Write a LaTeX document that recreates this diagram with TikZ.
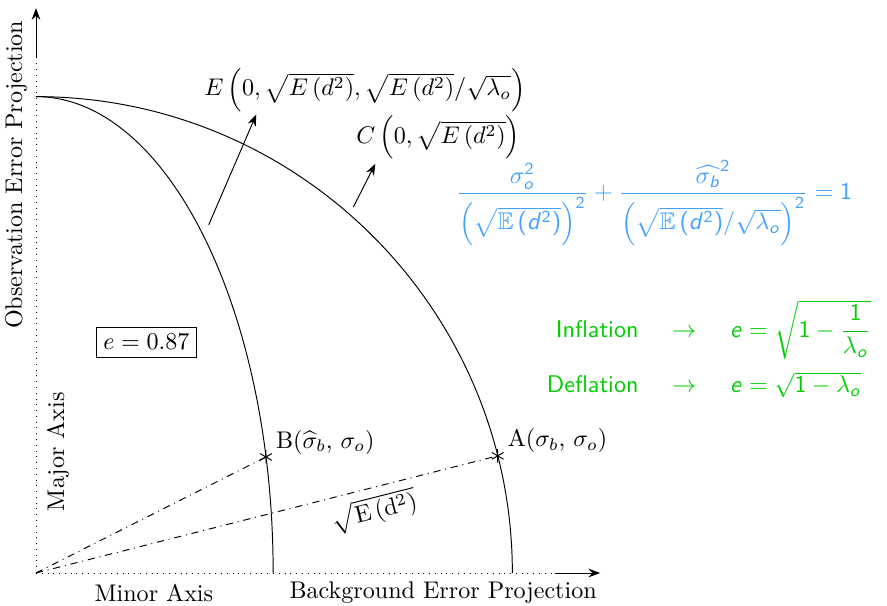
\documentclass[tikz,border=0pt]{standalone}
\usepackage{amsmath}
\usepackage{amssymb}
\usetikzlibrary{arrows.meta, positioning, calc, plotmarks}

\definecolor{eqblue}{RGB}{64,160,255}
\definecolor{eqgreen}{RGB}{0,205,0}

% Sans serif math for the coloured equations
\DeclareMathVersion{sans}
\SetSymbolFont{operators}{sans}{OT1}{cmss}{m}{n}
\DeclareMathAlphabet{\mathsfit}{OT1}{cmss}{m}{sl}
\newcommand{\sv}[1]{\mathsfit{#1}}

\begin{document}
\begin{tikzpicture}[
    >=Stealth, % Arrow tip
    % Style definitions
    axis dots/.style={dotted},
    axis arrow/.style={->},
    ray/.style={dash dot},
    pointer/.style={->},
    point mark/.style={mark=asterisk, mark size=2.8pt, only marks},
    % Text styles
    axis text/.style={font=\normalsize\rmfamily},
    blue eq/.style={text=eqblue, font=\mathversion{sans}},
    green eq/.style={text=eqgreen, font=\mathversion{sans}\sffamily},
    value box/.style={draw, inner sep=3pt}
]

\useasboundingbox (-0.525,-0.467) rectangle (12.416,8.360);

% Radii of the two quarter ellipses
\def\rad{6.95}
\def\semi{3.46}

% ==========================================
% 1. AXES
% ==========================================

\coordinate (O) at (0,0);
\coordinate (y_end) at (0,7.53);
\coordinate (y_tip) at (0,8.24);
\coordinate (x_end) at (7.57,0);
\coordinate (x_tip) at (8.23,0);

\draw[axis dots] (O) -- (y_end);
\draw[axis arrow] (y_end) -- (y_tip);
\draw[axis dots] (O) -- (x_end);
\draw[axis arrow] (x_end) -- (x_tip);

% Axis labels
\node[axis text, rotate=90] (yaxis_label) at (-0.29, 5.81) {Observation Error Projection};
\node[axis text, rotate=90] (major_label) at (0.32, 1.77) {Major Axis};
\node[axis text] (minor_label) at (1.72, -0.29) {Minor Axis};
\node[axis text] (xaxis_label) at (5.94, -0.29) {Background Error Projection};

% ==========================================
% 2. ELLIPSE AND CIRCLE
% ==========================================

\draw (0,\rad) arc[start angle=90, end angle=0, radius=\rad];
\draw (0,\rad) arc[start angle=90, end angle=0, x radius=\semi, y radius=\rad];

% Points on the curves
\coordinate (B) at ({\semi*cos(14.1)}, {\rad*sin(14.1)});
\coordinate (A) at (14.24:\rad);

\draw[ray] (O) -- (B);
\draw[ray] (O) -- node[sloped, below, pos=0.72] (dist_label) {$\sqrt{\mathrm{E}\left(\mathrm{d}^2\right)}$} (A);

\draw plot[point mark] coordinates {(B) (A)};

\node[anchor=south west, inner sep=1pt, xshift=3pt] (B_label) at (B) {B($\widehat{\sigma}_b$, $\sigma_o$)};
\node[anchor=south west, inner sep=1pt, xshift=3pt] (A_label) at (A) {A($\sigma_b$, $\sigma_o$)};

% Eccentricity box
\node[value box] (e_box) at (1.61, 3.37) {$e=0.87$};

% ==========================================
% 3. TOP LABELS
% ==========================================

\node (E_label) at (4.80, 7.05) {$E\left(0,\sqrt{E\left(d^2\right)},\sqrt{E\left(d^2\right)}/\sqrt{\lambda_o}\right)$};
\node (C_label) at (5.87, 6.36) {$C\left(0,\sqrt{E\left(d^2\right)}\right)$};

\coordinate (E_tail) at (2.52, 5.08);
\coordinate (C_tail) at (4.63, 5.34);

\draw[pointer] (E_tail) -- ($(E_label.south west)+(0.88,0.08)$);
\draw[pointer] (C_tail) -- ($(C_label.south west)+(0.40,0.05)$);

% ==========================================
% 4. EQUATIONS
% ==========================================

\node[blue eq] (ellipse_eq) at (9.02, 5.40)
    {$\dfrac{\sigma_{\sv{o}}^2}{\left(\sqrt{\mathbb{E}\left(\sv{d}^2\right)}\right)^2}+\dfrac{\widehat{\sigma_{\sv{b}}}^2}{\left(\sqrt{\mathbb{E}\left(\sv{d}^2\right)}/\sqrt{\lambda_{\sv{o}}}\right)^2}=1$};

\node[green eq] (rate_eq) at (9.82, 3.24)
    {$\setlength{\arraycolsep}{7pt}\begin{array}{rcl}
        \text{Inflation} & \rightarrow & \sv{e}=\sqrt{1-\dfrac{1}{\lambda_{\sv{o}}}}\\[11pt]
        \text{Deflation} & \rightarrow & \sv{e}=\sqrt{1-\lambda_{\sv{o}}}
    \end{array}$};

\end{tikzpicture}
\end{document}
